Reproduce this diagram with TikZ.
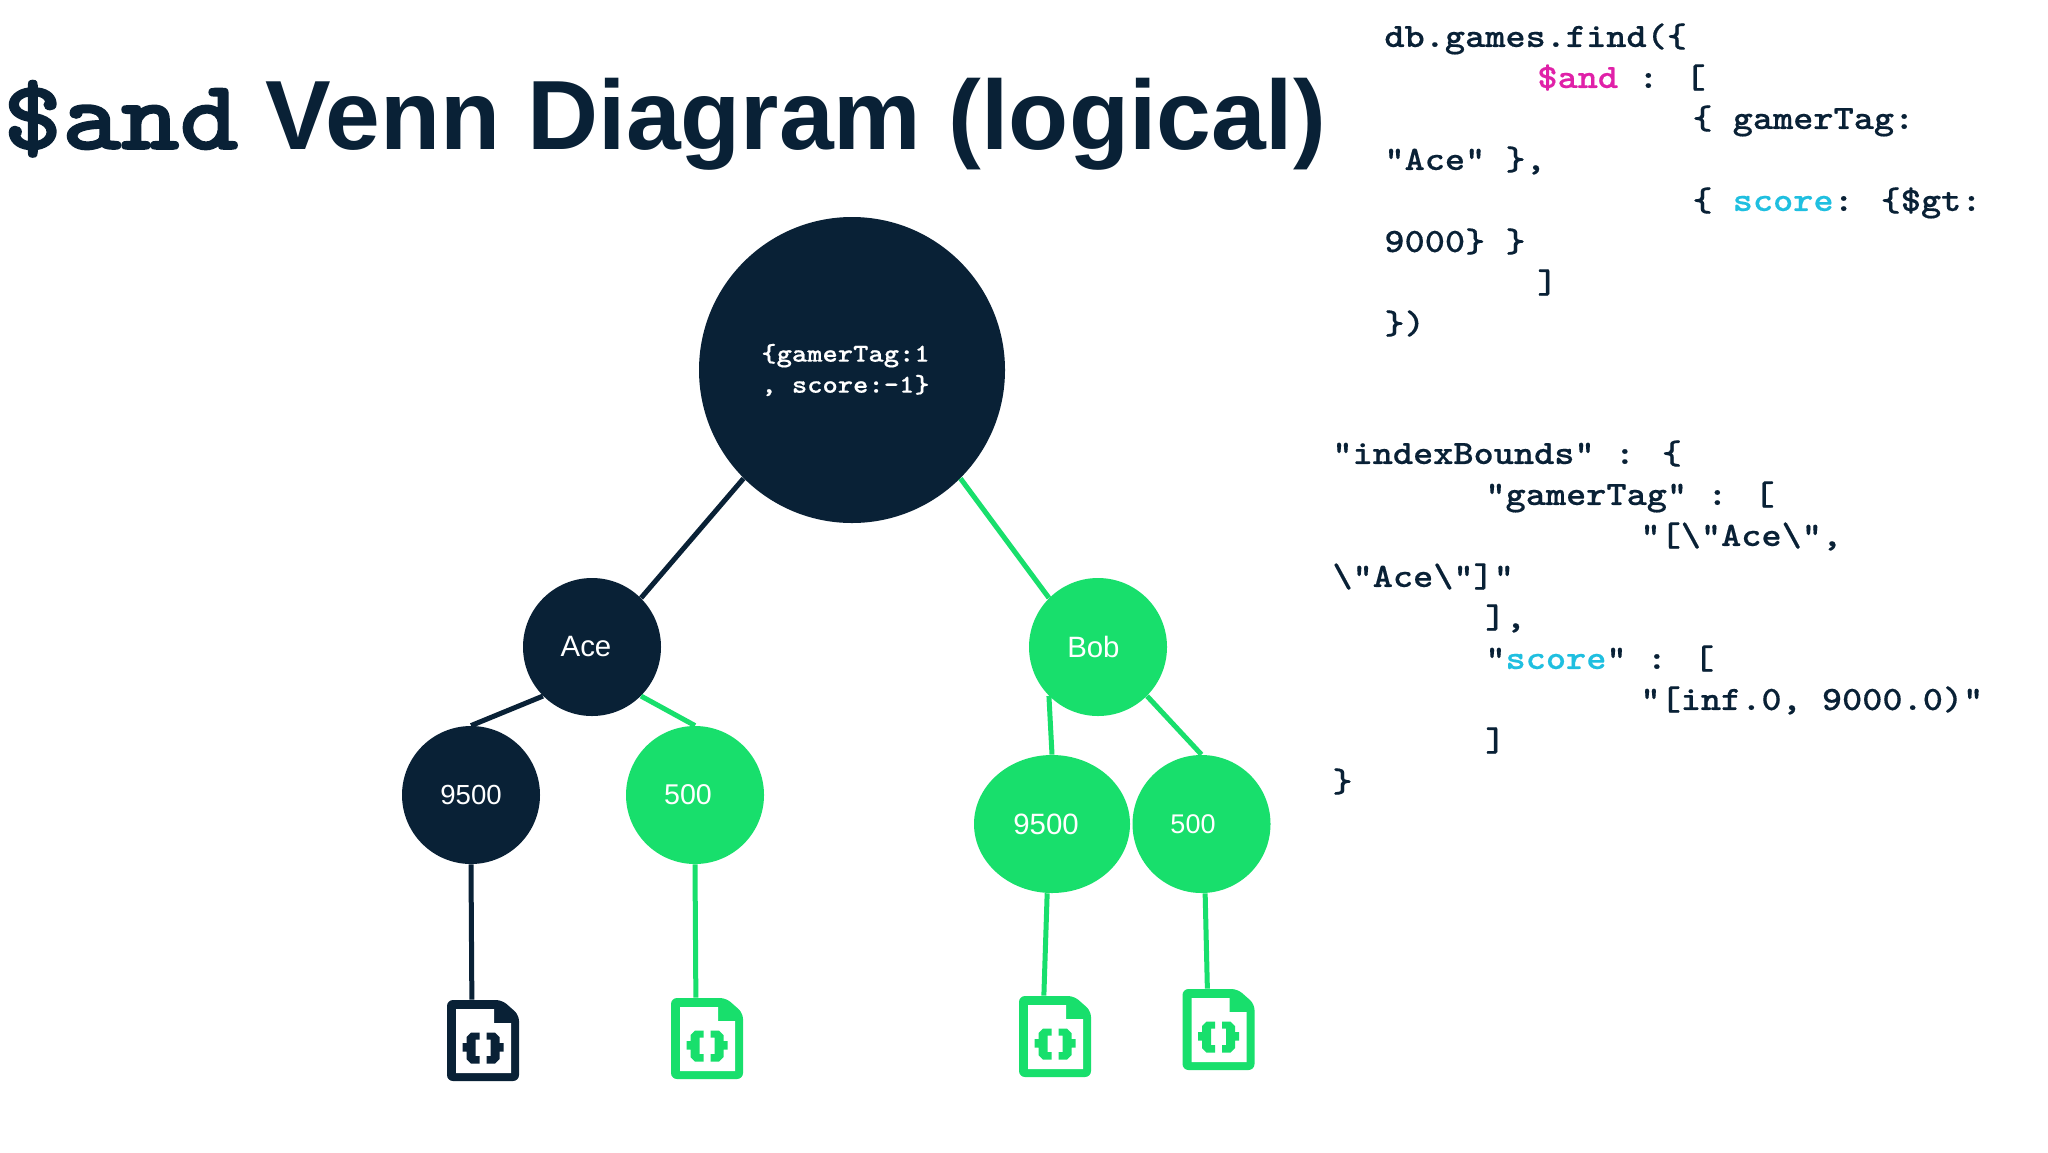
\documentclass[tikz,border=0pt]{standalone}
\usepackage{fontspec}
\setmainfont{Liberation Sans}
\newfontfamily\codefont[FakeStretch=1.13,FakeBold=0.4]{Latin Modern Mono Light}
\newfontfamily\titlecode[FakeStretch=1.13,FakeBold=1.6]{Latin Modern Mono Light}
\usetikzlibrary{shapes.geometric,calc}
\definecolor{navy}{HTML}{092136}
\definecolor{leaf}{HTML}{18DF6C}
\definecolor{pinkcode}{HTML}{E021A8}
\definecolor{cyancode}{HTML}{1FBFE0}
\newcommand\tabA{\hspace*{76.5pt}}
\newcommand\tabB{\hspace*{154pt}}
\tikzset{
  x=0.5pt,y=-0.5pt,
  bubble/.style={ellipse,inner sep=0pt,minimum width=69pt,minimum height=69pt,text=white,fill=#1},
  lbl/.style={font=\fontsize{#1}{#1}\selectfont},
  filebox/.style={rectangle,inner sep=0pt,minimum width=36pt,minimum height=40.5pt},
  darkline/.style={draw=navy,line width=2.5pt},
  greenline/.style={draw=leaf,line width=2.5pt},
  codeblock/.style={anchor=north west,inner sep=0pt,align=left,text=navy,
     font=\codefont\bfseries\fontsize{17}{20.5}\selectfont},
  pics/docicon/.style={code={
    \fill[#1,rounded corners=3pt] (-36,-40.5) -- (19,-40.5) -- (36,-25.5) -- (36,40.5) -- (-36,40.5) -- cycle;
    \fill[white] (-27,-31.5) -- (11,-31.5) -- (11,-17.5) -- (28,-17.5) -- (28,32.5) -- (-27,32.5) -- cycle;
    \foreach \s in {1,-1}{
      \fill[#1,xscale=\s,shift={(0,7.5)}] (-3.5,-15.5) -- (-12,-15.5) -- (-16.5,-11) -- (-16.5,-5) -- (-20.5,-5) -- (-20.5,3.5) -- (-16.5,3.5) -- (-16.5,11) -- (-12,15.5) -- (-3.5,15.5) -- (-3.5,8) -- (-7.5,8) -- (-7.5,-8.5) -- (-3.5,-8.5) -- cycle;
    }
  }},
}
\begin{document}
\begin{tikzpicture}
\useasboundingbox (0,0) rectangle (2048,1152);
\fill[white] (0,0) rectangle (2048,1152);

% title
\node[anchor=base west,inner sep=0pt,text=navy] (title) at (3,149)
  {{\titlecode\bfseries\fontsize{49.5}{49.5}\selectfont\$and}\hspace{13.5pt}{\fontsize{49.2}{50}\selectfont\bfseries Venn Diagram (logical)}};

% tree nodes
\node[bubble=navy,minimum width=153pt,minimum height=153pt,align=center,
      font=\codefont\bfseries\fontsize{12.9}{15.5}\selectfont] (root) at (852,370)
  {\{gamerTag:1\kern6.5pt\\, score:-1\}\kern6.5pt};
\node[bubble=navy,lbl=14.7] (ace) at (592,647) {Ace\kern6pt};
\node[bubble=leaf,lbl=14.7] (bob) at (1098,647) {Bob\kern4.6pt};
\node[bubble=navy,lbl=13.8] (a9500) at (471,795) {9500};
\node[bubble=leaf,lbl=14.3] (a500) at (695,795) {500\kern7pt};
\node[bubble=leaf,lbl=14.7,minimum width=78pt] (b9500) at (1052,824) {9500\kern6pt};
\node[bubble=leaf,lbl=13.5] (b500) at (1201.5,824) {500\kern8.5pt};

% document icons
\node[filebox] (f1) at (483,1040.5) {};
\pic at (f1.center) {docicon=navy};
\node[filebox] (f2) at (707,1038.5) {};
\pic at (f2.center) {docicon=leaf};
\node[filebox] (f3) at (1055,1036.5) {};
\pic at (f3.center) {docicon=leaf};
\node[filebox] (f4) at (1218.5,1029.5) {};
\pic at (f4.center) {docicon=leaf};

% connectors
\path[darkline] (root.225) -- (ace.45);
\path[greenline] (root.-45) -- (bob.135);
\path[darkline] (ace.225) -- (a9500.north);
\path[greenline] (ace.-45) -- (a500.north);
\path[greenline] (bob.225) -- (b9500.north);
\path[greenline] (bob.-45) -- (b500.north);
\path[darkline] (a9500.south) -- ($(f1.north west)!0.347!(f1.north east)$);
\path[greenline] (a500.south) -- ($(f2.north west)!0.347!(f2.north east)$);
\path[greenline] (b9500.266) -- ($(f3.north west)!0.347!(f3.north east)$);
\path[greenline] (b500.273) -- ($(f4.north west)!0.347!(f4.north east)$);

% code
\node[codeblock] (query) at (1384,23) {%
db.games.find(\{\\
\tabA\textcolor{pinkcode}{\$and} : [\\
\tabB\{ gamerTag:\\
"Ace" \},\\
\tabB\{ \textcolor{cyancode}{score}: \{\$gt:\\
9000\} \}\\
\tabA]\\
\})};
\node[codeblock] (bounds) at (1332,440) {%
"indexBounds" : \{\\
\tabA"gamerTag" : [\\
\tabB"[\textbackslash"Ace\textbackslash",\\
\textbackslash"Ace\textbackslash"]"\\
\tabA],\\
\tabA"\textcolor{cyancode}{score}" : [\\
\tabB"[inf.0, 9000.0)"\\
\tabA]\\
\}};
\end{tikzpicture}
\end{document}
